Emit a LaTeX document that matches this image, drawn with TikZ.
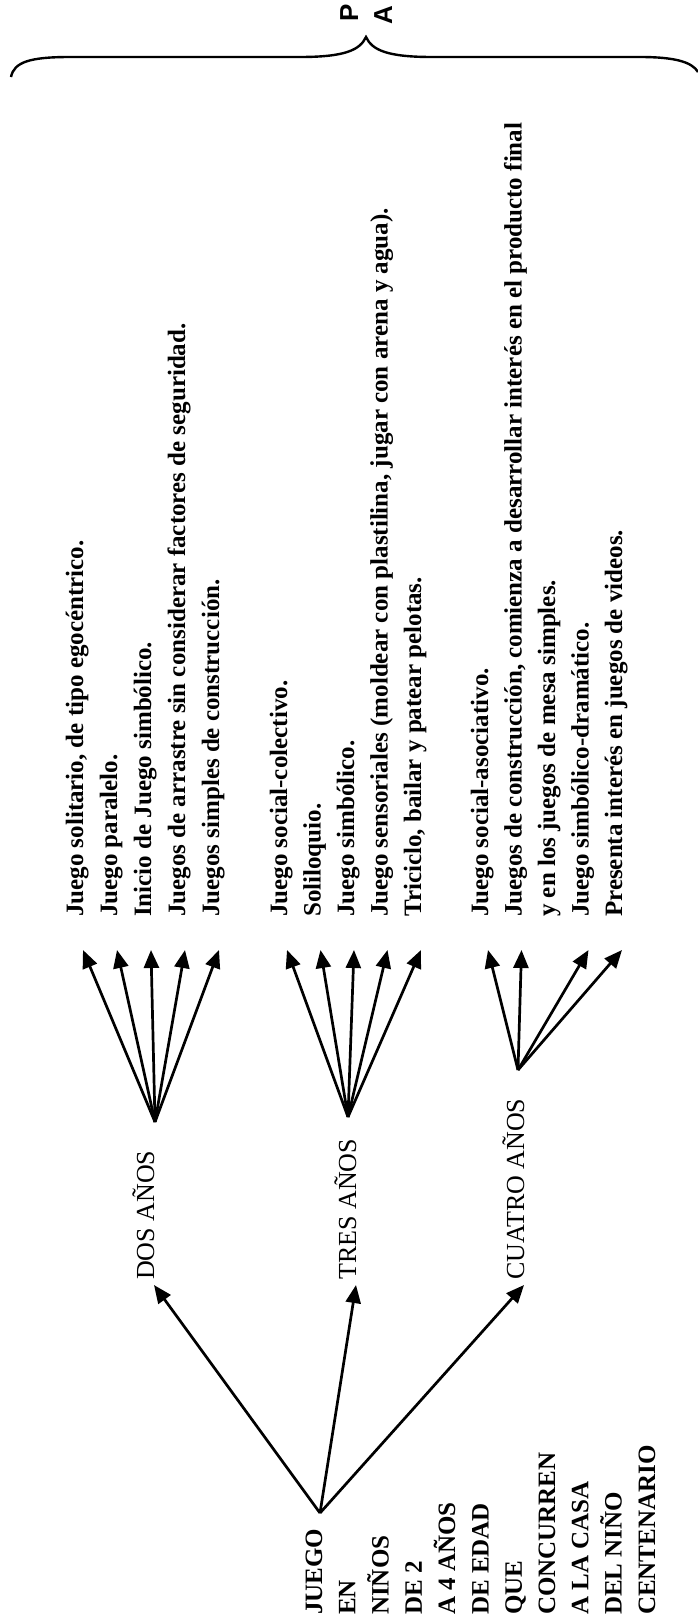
\documentclass[tikz,border=0pt]{standalone}
\usepackage{fontspec}
\setmainfont{Liberation Serif}
\newfontfamily\letrasans{Liberation Sans}
\usetikzlibrary{arrows.meta}

\begin{document}
\begin{tikzpicture}[x=1pt,y=-1pt,
  flecha/.style={-{Triangle[length=18pt,width=15pt]},line width=2.7pt},
  hoja/.style={rotate=90,anchor=base west,inner ysep=0pt,inner xsep=33pt,font=\fontsize{25}{30}\selectfont\bfseries},
  edad/.style={rotate=90,anchor=base west,inner ysep=0pt,inner xsep=5pt,font=\fontsize{26}{30}\selectfont},
  raizt/.style={rotate=90,anchor=base west,inner sep=0pt,font=\fontsize{25}{30}\selectfont\bfseries}]
\useasboundingbox (0,0) rectangle (698,1622);
\draw[line width=2.4pt] (11,77) .. controls (14,62) and (30,57) .. (70,57) -- (300,57)
  .. controls (345,57) and (360,50) .. (366,37) .. controls (372,50) and (387,57) .. (432,57)
  -- (640,57) .. controls (675,57) and (692,62) .. (698,72);
\node[rotate=90,anchor=base west,inner sep=0pt,font=\letrasans\fontsize{26}{30}\selectfont\bfseries] (p) at (358,22) {P};
\node[rotate=90,anchor=base west,inner sep=0pt,font=\letrasans\fontsize{26}{30}\selectfont\bfseries] (a) at (392,25) {A};
\foreach \txt [count=\i] in {JUEGO,EN,NIÑOS,DE 2,A 4 AÑOS,DE EDAD,QUE,CONCURREN,A LA CASA,DEL NIÑO,CENTENARIO}
  \node[raizt] (r\i) at ({322+33.3*(\i-1)},1615) {\txt};
\coordinate (raiz) at (320,1513);
\node[edad] (dos) at (154,1285) {DOS AÑOS};
\node[edad] (tres) at (356,1285) {TRES AÑOS};
\node[edad] (cuatro) at (524,1285) {CUATRO AÑOS};
\foreach \n in {dos,tres,cuatro} \draw[flecha] (raiz) -- (\n.base west);
\coordinate (fdos) at (155,1122); \coordinate (ftres) at (348,1117); \coordinate (fcuatro) at (518,1070);
\foreach \px/\txt [count=\i] in {83/{Juego solitario, de tipo egocéntrico.},117/Juego paralelo.,151/Inicio de Juego simbólico.,
  185/Juegos de arrastre sin considerar factores de seguridad.,219/Juegos simples de construcción.}
  \node[hoja] (d\i) at (\px,950) {\txt};
\foreach \px/\txt [count=\i] in {287/Juego social-colectivo.,320.5/Soliloquio.,354/Juego simbólico.,
  387.5/{Juego sensoriales (moldear con plastilina, jugar con arena y agua).},421/{Triciclo, bailar y patear pelotas.}}
  \node[hoja] (t\i) at (\px,950) {\txt};
\foreach \px/\txt [count=\i] in {488/Juego social-asociativo.,521.5/{Juegos de construcción, comienza a desarrollar interés en el producto final},
  555/y en los juegos de mesa simples.,588.5/Juego simbólico-dramático.,622/Presenta interés en juegos de videos.}
  \node[hoja] (c\i) at (\px,950) {\txt};
\foreach \i in {1,...,5} \draw[flecha] (fdos) -- (d\i.base west);
\foreach \i in {1,...,5} \draw[flecha] (ftres) -- (t\i.base west);
\foreach \i in {1,2,4,5} \draw[flecha] (fcuatro) -- (c\i.base west);
\end{tikzpicture}
\end{document}
